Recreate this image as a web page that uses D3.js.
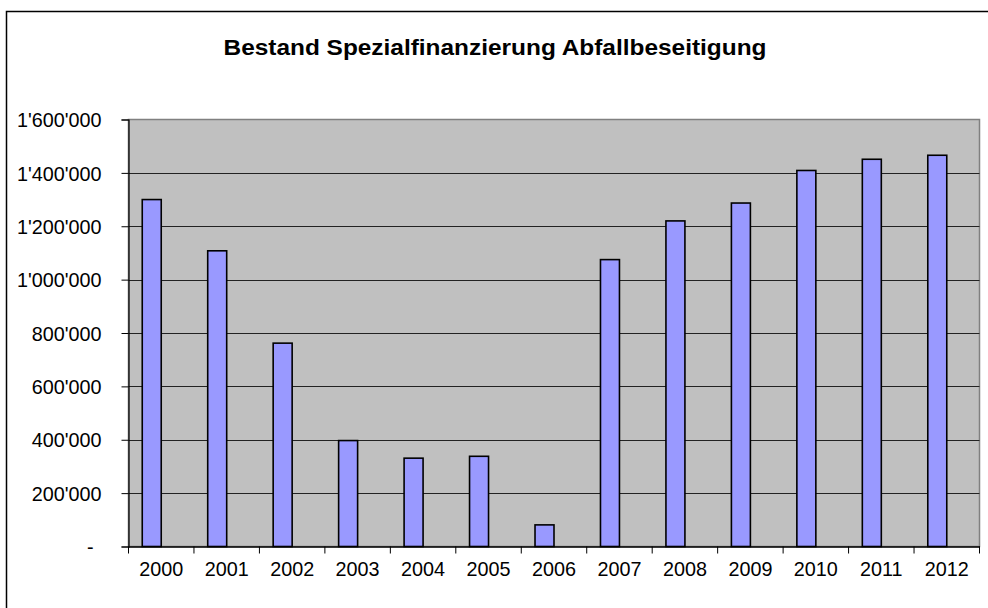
<!DOCTYPE html>
<html>
<head>
<meta charset="utf-8">
<script src="https://cdn.jsdelivr.net/npm/d3@7"></script>
<style>
  body { margin: 0; background: #fff; }
  text { font-family: "Liberation Sans", Arial, sans-serif; fill: #000; }
</style>
</head>
<body>
<svg id="chart" width="988" height="608"></svg>
<script>
let years = ["2000","2001","2002","2003","2004","2005","2006","2007","2008","2009","2010","2011","2012"];
let bestand = [1300000, 1108000, 762000, 397000, 331000, 338000, 81000, 1075000, 1220000, 1287000, 1409000, 1451000, 1466000];
let yTicks = [0, 200000, 400000, 600000, 800000, 1000000, 1200000, 1400000, 1600000];

let svg = d3.select("#chart");

let plotLeft = 128.5, plotRight = 979.5, plotTop = 119.5, plotBottom = 546.5;

// chart border (right and bottom run off the picture)
svg.append("rect")
    .attr("x", 6.5).attr("y", 11.5)
    .attr("width", 1000).attr("height", 1000)
    .attr("fill", "#fff")
    .attr("stroke", "#000")
    .attr("stroke-width", 1.5);

svg.append("text")
    .attr("x", 495).attr("y", 54.5)
    .attr("text-anchor", "middle")
    .attr("font-size", 22)
    .attr("font-weight", "bold")
    .attr("textLength", 543)
    .attr("lengthAdjust", "spacingAndGlyphs")
    .text("Bestand Spezialfinanzierung Abfallbeseitigung");

let x = d3.scaleBand().domain(years).range([plotLeft, plotRight]).padding(0);
let y = d3.scaleLinear().domain([0, 1600000]).range([plotBottom, plotTop]);

// plot area
svg.append("rect")
    .attr("x", plotLeft).attr("y", plotTop)
    .attr("width", plotRight - plotLeft).attr("height", plotBottom - plotTop)
    .attr("fill", "#c0c0c0")
    .attr("stroke", "#808080")
    .attr("stroke-width", 1.5);

// gridlines
svg.append("g")
    .selectAll("line")
    .data(yTicks.filter(d => d > 0 && d < 1600000))
    .join("line")
    .attr("x1", plotLeft).attr("x2", plotRight)
    .attr("y1", d => Math.round(y(d)) + 0.5)
    .attr("y2", d => Math.round(y(d)) + 0.5)
    .attr("stroke", "#222")
    .attr("stroke-width", 1.2);

// bars
let bw = x.bandwidth();
svg.append("g")
    .selectAll("rect")
    .data(bestand)
    .join("rect")
    .attr("x", (d, i) => x(years[i]) + bw * 0.21)
    .attr("y", d => y(d))
    .attr("width", bw * 0.29)
    .attr("height", d => y(0) - y(d))
    .attr("fill", "#9999ff")
    .attr("stroke", "#000")
    .attr("stroke-width", 1.6);

// y axis
let fmt = d => d === 0 ? "-" : d3.format(",")(d).replace(/,/g, "'");
let yAxis = svg.append("g")
    .attr("transform", `translate(${plotLeft},0)`)
    .call(d3.axisLeft(y).tickValues(yTicks).tickFormat(fmt).tickSize(7).tickPadding(20));
yAxis.select(".domain").attr("stroke", "#000").attr("stroke-width", 1.2);
yAxis.selectAll(".tick line").attr("stroke", "#000");
yAxis.selectAll("text")
    .attr("font-size", 19.8)
    .attr("font-family", "Liberation Sans, Arial, sans-serif")
    .attr("fill", "#000")
    .attr("dy", "0.36em");
yAxis.selectAll(".tick").filter(d => d === 0).select("text").attr("dx", -8);

// x axis
let boundaries = years.map(c => x(c)).concat([plotRight]);
let xAxis = svg.append("g")
    .attr("transform", `translate(0,${plotBottom})`)
    .call(d3.axisBottom(x).tickSize(0).tickPadding(15));
xAxis.select(".domain").attr("stroke", "#000").attr("stroke-width", 1.5);
xAxis.selectAll("text")
    .attr("font-size", 19.8)
    .attr("font-family", "Liberation Sans, Arial, sans-serif")
    .attr("fill", "#000")
    .attr("dy", "0.71em");
xAxis.append("g")
    .selectAll("line")
    .data(boundaries)
    .join("line")
    .attr("x1", d => d).attr("x2", d => d)
    .attr("y1", 0).attr("y2", 7)
    .attr("stroke", "#000");
</script>
</body>
</html>
